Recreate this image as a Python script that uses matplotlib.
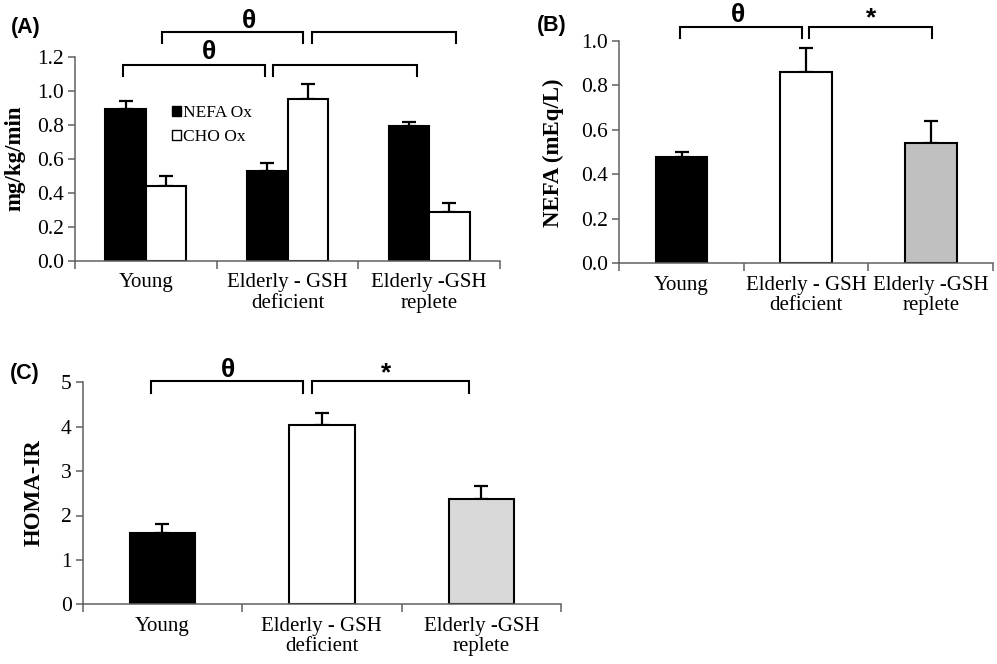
import matplotlib
matplotlib.use("Agg")
import matplotlib.pyplot as plt
from matplotlib.patches import Patch

plt.rcParams['font.family'] = ['Liberation Serif', 'DejaVu Serif']

categories = ["Young", "Elderly - GSH\ndeficient", "Elderly -GSH\nreplete"]

# Panel A
nefa_ox = [0.894, 0.53, 0.794]
nefa_ox_err = [0.047, 0.043, 0.022]
cho_ox = [0.44, 0.95, 0.285]
cho_ox_err = [0.06, 0.088, 0.055]

# Panel B
nefa = [0.478, 0.86, 0.54]
nefa_err = [0.022, 0.11, 0.10]

# Panel C
homa = [1.605, 4.045, 2.378]
homa_err = [0.205, 0.27, 0.29]

W, H = 997, 664
fig = plt.figure(figsize=(W / 100, H / 100), dpi=100)

def axes_px(left, right, bottom, top):
    return fig.add_axes([left / W, 1 - bottom / H, (right - left) / W, (bottom - top) / H])

SP = '#606060'
TICK_FS = 15.5
CAT_FS = 15

def style(ax, ylim, yticks, yfmt):
    ax.set_xlim(-0.5, 2.5)
    ax.set_ylim(*ylim)
    for s in ['top', 'right']:
        ax.spines[s].set_visible(False)
    for s in ['left', 'bottom']:
        ax.spines[s].set_color(SP)
        ax.spines[s].set_linewidth(1.1)
    ax.set_yticks(yticks)
    ax.set_yticklabels([yfmt.format(v) for v in yticks], fontsize=TICK_FS)
    ax.tick_params(axis='y', direction='out', length=5, width=1.1, color=SP, pad=3)
    ax.set_xticks([-0.5, 0.5, 1.5, 2.5])
    ax.set_xticklabels([])
    ax.tick_params(axis='x', which='major', direction='out', length=6, width=1.1, color=SP)
    ax.set_xticks([0, 1, 2], minor=True)
    ax.set_xticklabels(categories, minor=True, fontsize=CAT_FS, linespacing=1.12)
    ax.tick_params(axis='x', which='minor', length=0, pad=9)

def err(ax, x, y, e):
    ax.errorbar(x, y, yerr=[[0] * len(e), e], fmt='none', ecolor='black',
                elinewidth=1.6, capsize=5, capthick=1.6, zorder=1)

def bracket(ax, x0, x1, y, ytick):
    ax.plot([x0, x0, x1, x1], [ytick, y, y, ytick], color='black', lw=1.5,
            clip_on=False, solid_joinstyle='miter')

SYM = dict(fontsize=19, fontweight='bold', family=['Liberation Sans', 'DejaVu Sans'],
           ha='center', va='center')

# ---------- Panel A ----------
axA = axes_px(75, 500, 260.7, 56.7)
style(axA, (0, 1.2), [0, 0.2, 0.4, 0.6, 0.8, 1.0, 1.2], "{:.1f}")
xs = [0, 1, 2]
bw = 0.285
off = 0.1425
axA.bar([x - off for x in xs], nefa_ox, bw, color='black', edgecolor='black', lw=1.5, zorder=2)
axA.bar([x + off for x in xs], cho_ox, bw, color='white', edgecolor='black', lw=1.5, zorder=2)
err(axA, [x - off for x in xs], nefa_ox, nefa_ox_err)
err(axA, [x + off for x in xs], cho_ox, cho_ox_err)
bracket(axA, -0.16, 0.843, 1.151, 1.086)
bracket(axA, 0.90, 1.917, 1.151, 1.086)
bracket(axA, 0.115, 1.11, 1.347, 1.28)
bracket(axA, 1.175, 2.19, 1.347, 1.28)
axA.text(0.447, 1.225, "θ", **SYM)
axA.text(0.73, 1.41, "θ", **SYM)
handles = [Patch(facecolor='black', edgecolor='black', label='NEFA Ox'),
           Patch(facecolor='white', edgecolor='black', label='CHO Ox')]
axA.legend(handles=handles, loc='upper left', bbox_to_anchor=(0.212, 0.795),
           frameon=False, fontsize=12.5, handlelength=0.5, handleheight=0.5,
           handletextpad=0.12, labelspacing=0.45, borderaxespad=0)
fig.text(15 / W, 1 - 158 / H, "mg/kg/min", rotation=90, fontsize=16.5, fontweight='bold',
         ha='center', va='center')
fig.text(26 / W, 1 - 27 / H, "(A)", fontsize=15.5, fontweight='bold',
         family=['Liberation Sans', 'DejaVu Sans'], ha='center', va='center')

# ---------- Panel B ----------
axB = axes_px(619.3, 993, 263.3, 41)
style(axB, (0, 1.0), [0, 0.2, 0.4, 0.6, 0.8, 1.0], "{:.1f}")
bwB = 0.415
axB.bar(xs, nefa, bwB, color=['black', 'white', '#c0c0c0'], edgecolor='black', lw=1.5, zorder=2)
err(axB, xs, nefa, nefa_err)
bracket(axB, -0.013, 0.963, 1.061, 1.012)
bracket(axB, 1.02, 2.014, 1.061, 1.012)
axB.text(0.45, 1.117, "θ", **SYM)
axB.text(1.525, 1.1, "*", **SYM)
fig.text(553 / W, 1 - 153 / H, "NEFA (mEq/L)", rotation=90, fontsize=16.5, fontweight='bold',
         ha='center', va='center')
fig.text(552 / W, 1 - 25 / H, "(B)", fontsize=15.5, fontweight='bold',
         family=['Liberation Sans', 'DejaVu Sans'], ha='center', va='center')

# ---------- Panel C ----------
axC = axes_px(82.7, 561, 604.3, 382.3)
style(axC, (0, 5), [0, 1, 2, 3, 4, 5], "{:.0f}")
bwC = 0.41
axC.bar(xs, homa, bwC, color=['black', 'white', '#d9d9d9'], edgecolor='black', lw=1.5, zorder=2)
err(axC, xs, homa, homa_err)
bracket(axC, -0.07, 0.884, 5.03, 4.77)
bracket(axC, 0.94, 1.923, 5.03, 4.77)
axC.text(0.41, 5.28, "θ", **SYM)
axC.text(1.40, 5.2, "*", **SYM)
fig.text(34 / W, 1 - 493 / H, "HOMA-IR", rotation=90, fontsize=16.5, fontweight='bold',
         ha='center', va='center')
fig.text(25 / W, 1 - 373 / H, "(C)", fontsize=15.5, fontweight='bold',
         family=['Liberation Sans', 'DejaVu Sans'], ha='center', va='center')

fig.savefig("out.png", dpi=100, facecolor='white')
